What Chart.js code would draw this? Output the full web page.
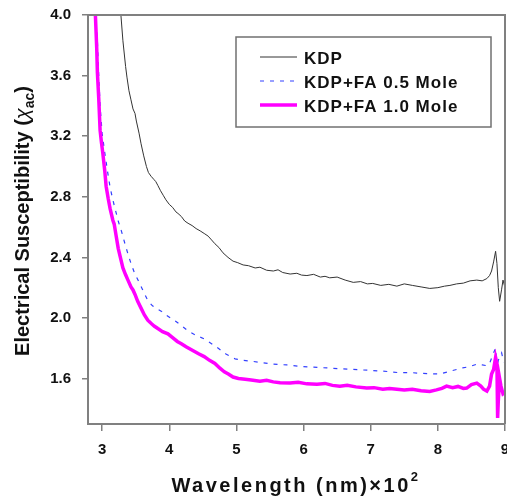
<!DOCTYPE html>
<html>
<head>
<meta charset="utf-8">
<script src="https://cdn.jsdelivr.net/npm/chart.js@4.4.1/dist/chart.umd.min.js"></script>
<style>
  html, body { margin: 0; padding: 0; background: #fff; }
  #myChart { display: block; }
</style>
</head>
<body>
<canvas id="myChart" width="507" height="500"></canvas>
<script>
// series labels
var seriesNames = ['KDP', 'KDP+FA 0.5 Mole', 'KDP+FA 1.0 Mole'];

// tick labels
var xTicks = [3, 4, 5, 6, 7, 8, 9];
var yTicks = [1.6, 2.0, 2.4, 2.8, 3.2, 3.6, 4.0];

// KDP
var kdpX = [3.26, 3.28, 3.31, 3.35, 3.37, 3.40, 3.43, 3.46, 3.49, 3.51, 3.55, 3.58, 3.62, 3.66, 3.69, 3.73,
    3.77, 3.80, 3.83, 3.87, 3.91, 3.95, 4.00, 4.05, 4.10, 4.13, 4.18, 4.23, 4.28, 4.34, 4.40, 4.46,
    4.53, 4.58, 4.63, 4.68, 4.74, 4.80, 4.875, 4.95, 5.02, 5.10, 5.18, 5.28, 5.35, 5.45, 5.55, 5.62,
    5.69, 5.80, 5.90, 5.97, 6.05, 6.15, 6.25, 6.32, 6.39, 6.50, 6.62, 6.74, 6.85, 6.95, 7.03, 7.15,
    7.27, 7.39, 7.50, 7.62, 7.75, 7.88, 8.00, 8.10, 8.18, 8.28, 8.38, 8.48, 8.58, 8.66, 8.73, 8.77,
    8.80, 8.83, 8.86, 8.88, 8.90, 8.92, 8.95, 8.97, 9.0];
var kdpY = [4.10, 4.00, 3.83, 3.66, 3.59, 3.50, 3.44, 3.38, 3.35, 3.30, 3.22, 3.15, 3.07, 3.00, 2.96, 2.935,
    2.915, 2.90, 2.875, 2.84, 2.81, 2.78, 2.75, 2.73, 2.70, 2.69, 2.67, 2.64, 2.625, 2.61, 2.59, 2.575,
    2.555, 2.54, 2.515, 2.49, 2.465, 2.43, 2.40, 2.375, 2.365, 2.35, 2.345, 2.33, 2.335, 2.315, 2.31, 2.318,
    2.30, 2.29, 2.295, 2.283, 2.28, 2.288, 2.27, 2.275, 2.265, 2.27, 2.25, 2.235, 2.24, 2.225, 2.228, 2.215,
    2.222, 2.21, 2.225, 2.215, 2.205, 2.195, 2.20, 2.21, 2.215, 2.225, 2.23, 2.245, 2.25, 2.245, 2.26, 2.28,
    2.31, 2.37, 2.44, 2.36, 2.20, 2.11, 2.19, 2.25, 2.20];

// KDP+FA 0.5 Mole
var fa05X = [2.88, 2.91, 2.93, 2.95, 2.97, 3.00, 3.04, 3.08, 3.12, 3.16, 3.20, 3.24, 3.29, 3.34, 3.38, 3.43,
    3.48, 3.54, 3.60, 3.68, 3.75, 3.82, 3.88, 3.95, 4.02, 4.09, 4.18, 4.28, 4.40, 4.53, 4.63, 4.73,
    4.85, 4.98, 5.10, 5.22, 5.38, 5.54, 5.75, 5.95, 6.15, 6.35, 6.55, 6.74, 6.95, 7.14, 7.30, 7.43,
    7.58, 7.73, 7.88, 8.03, 8.18, 8.28, 8.37, 8.48, 8.58, 8.66, 8.73, 8.77, 8.80, 8.83, 8.86, 8.88,
    8.90, 8.92, 8.95, 8.97, 9.0];
var fa05Y = [4.15, 3.95, 3.83, 3.60, 3.40, 3.22, 3.09, 2.97, 2.86, 2.78, 2.71, 2.64, 2.57, 2.49, 2.43, 2.36,
    2.30, 2.245, 2.19, 2.115, 2.08, 2.06, 2.045, 2.02, 2.00, 1.98, 1.95, 1.915, 1.885, 1.86, 1.83, 1.80,
    1.76, 1.73, 1.72, 1.715, 1.705, 1.695, 1.69, 1.68, 1.675, 1.67, 1.665, 1.66, 1.655, 1.65, 1.645, 1.638,
    1.64, 1.635, 1.632, 1.63, 1.648, 1.66, 1.67, 1.68, 1.695, 1.69, 1.685, 1.70, 1.735, 1.77, 1.80, 1.67,
    1.72, 1.74, 1.77, 1.73, 1.70];

// KDP+FA 1.0 Mole
var fa10X = [2.88, 2.90, 2.92, 2.93, 2.95, 2.97, 2.99, 3.01, 3.04, 3.06, 3.09, 3.12, 3.16, 3.18, 3.21, 3.24,
    3.28, 3.31, 3.35, 3.39, 3.43, 3.46, 3.49, 3.53, 3.58, 3.63, 3.68, 3.74, 3.78, 3.83, 3.90, 3.98,
    4.05, 4.12, 4.18, 4.25, 4.33, 4.43, 4.52, 4.60, 4.68, 4.75, 4.82, 4.88, 4.95, 5.03, 5.13, 5.22,
    5.35, 5.45, 5.55, 5.65, 5.80, 5.92, 6.05, 6.20, 6.32, 6.43, 6.54, 6.65, 6.78, 6.94, 7.05, 7.18,
    7.28, 7.39, 7.50, 7.62, 7.75, 7.88, 7.98, 8.06, 8.13, 8.22, 8.30, 8.38, 8.43, 8.50, 8.58, 8.64,
    8.68, 8.73, 8.77, 8.80, 8.83, 8.86, 8.88, 8.89, 8.90, 8.92, 8.94, 8.97, 9.0];
var fa10Y = [4.15, 4.00, 3.78, 3.62, 3.45, 3.24, 3.16, 3.09, 2.97, 2.87, 2.79, 2.72, 2.645, 2.62, 2.54, 2.46,
    2.385, 2.33, 2.285, 2.245, 2.205, 2.185, 2.155, 2.11, 2.065, 2.02, 1.985, 1.96, 1.945, 1.93, 1.91, 1.895,
    1.87, 1.845, 1.83, 1.81, 1.79, 1.765, 1.745, 1.72, 1.70, 1.67, 1.645, 1.63, 1.61, 1.60, 1.595, 1.59,
    1.583, 1.588, 1.578, 1.572, 1.57, 1.575, 1.565, 1.563, 1.568, 1.555, 1.55, 1.556, 1.545, 1.537, 1.54, 1.53,
    1.535, 1.53, 1.525, 1.53, 1.52, 1.515, 1.525, 1.535, 1.55, 1.54, 1.548, 1.535, 1.537, 1.56, 1.57, 1.55,
    1.53, 1.517, 1.55, 1.63, 1.66, 1.74, 1.70, 1.34, 1.45, 1.60, 1.55, 1.50, 1.51];

function toPoints(xs, ys) {
    return xs.map(function (x, i) { return { x: x, y: ys[i] }; });
}

var axisGray = '#808080';

// box round the plot, axis titles and the legend
var decorPlugin = {
    id: 'decor',
    afterDraw: function (chart) {
        var ctx = chart.ctx;
        var a = chart.chartArea;
        ctx.save();
        ctx.strokeStyle = axisGray;
        ctx.lineWidth = 2;
        ctx.beginPath();
        ctx.moveTo(a.left, a.top);
        ctx.lineTo(a.right, a.top);
        ctx.lineTo(a.right, a.bottom);
        ctx.stroke();

        // y title with subscript
        ctx.fillStyle = '#111';
        ctx.translate(29, 221);
        ctx.rotate(-Math.PI / 2);
        ctx.textBaseline = 'alphabetic';
        var big = 'bold 20px Arial';
        var small = 'bold 14px Arial';
        var parts = [
            { t: 'Electrical Susceptibility (', f: big, dy: 0 },
            { t: 'χ', f: 'italic 20px Arial', dy: 0 },
            { t: 'ac', f: small, dy: 5 },
            { t: ')', f: big, dy: 0 }
        ];
        var total = 0;
        parts.forEach(function (p) { ctx.font = p.f; p.w = ctx.measureText(p.t).width; total += p.w; });
        var x = -total / 2;
        parts.forEach(function (p) {
            ctx.font = p.f;
            ctx.textAlign = 'left';
            ctx.fillText(p.t, x, p.dy);
            x += p.w;
        });
        ctx.restore();

        // x title with superscript
        ctx.save();
        ctx.fillStyle = '#111';
        ctx.letterSpacing = '2.5px';
        ctx.font = 'bold 20px Arial';
        var main = 'Wavelength (nm)×10';
        var mw = ctx.measureText(main).width;
        ctx.font = 'bold 13px Arial';
        var sw = ctx.measureText('2').width;
        var sx = 296 - (mw + sw) / 2;
        ctx.font = 'bold 20px Arial';
        ctx.textAlign = 'left';
        ctx.fillText(main, sx, 492);
        ctx.font = 'bold 13px Arial';
        ctx.fillText('2', sx + mw, 481);
        ctx.restore();

        // legend
        ctx.save();
        ctx.strokeStyle = '#707070';
        ctx.lineWidth = 1.5;
        ctx.strokeRect(236, 37, 255, 90);
        var rows = [57, 81, 105];
        chart.data.datasets.forEach(function (ds, i) {
            ctx.strokeStyle = ds.borderColor;
            ctx.lineWidth = ds.borderWidth;
            ctx.setLineDash(ds.borderDash || []);
            ctx.beginPath();
            ctx.moveTo(260, rows[i]);
            ctx.lineTo(297, rows[i]);
            ctx.stroke();
            ctx.setLineDash([]);
            ctx.fillStyle = '#111';
            ctx.letterSpacing = '1px';
            ctx.font = 'bold 17px Arial';
            ctx.textBaseline = 'middle';
            ctx.fillText(ds.label, 304, rows[i] + 2);
        });
        ctx.restore();
    }
};

var chartArea = document.getElementById('myChart').getContext('2d');

var myChart = new Chart(chartArea, {
    type: 'line',
    data: {
        datasets: [{
            label: seriesNames[0],
            data: toPoints(kdpX, kdpY),
            borderColor: '#333333',
            borderWidth: 1,
            order: 2
        }, {
            label: seriesNames[1],
            data: toPoints(fa05X, fa05Y),
            borderColor: '#3340ff',
            borderWidth: 1.2,
            borderDash: [4, 6],
            order: 1
        }, {
            label: seriesNames[2],
            data: toPoints(fa10X, fa10Y),
            borderColor: '#ff00ff',
            borderWidth: 3.5,
            order: 0
        }]
    },
    options: {
        responsive: false,
        animation: false,
        events: [],
        elements: {
            point: { radius: 0 },
            line: { tension: 0, fill: false }
        },
        layout: { padding: { top: 15, right: 2, left: 0, bottom: 0 } },
        plugins: {
            legend: { display: false },
            tooltip: { enabled: false },
            title: { display: false }
        },
        scales: {
            x: {
                type: 'linear',
                min: 2.79,
                max: 9.0,
                afterBuildTicks: function (scale) {
                    scale.ticks = xTicks.map(function (v) { return { value: v }; });
                },
                afterFit: function (scale) {
                    scale.height = 76;
                    scale.paddingLeft = 0;
                    scale.paddingRight = 0;
                },
                grid: { drawOnChartArea: false, drawTicks: true, tickLength: 7, color: axisGray, lineWidth: 1.5 },
                border: { color: axisGray, width: 2 },
                ticks: {
                    color: '#111',
                    font: { family: 'Arial', weight: 'bold', size: 15 },
                    padding: 10,
                    maxRotation: 0,
                    callback: function (v) { return String(v); }
                }
            },
            y: {
                min: 1.3,
                max: 4.0,
                afterBuildTicks: function (scale) {
                    scale.ticks = yTicks.map(function (v) { return { value: v }; });
                },
                afterFit: function (scale) {
                    scale.width = 88;
                    scale.paddingTop = 0;
                    scale.paddingBottom = 0;
                },
                grid: { drawOnChartArea: false, drawTicks: true, tickLength: 6, color: axisGray, lineWidth: 1.5 },
                border: { color: axisGray, width: 2 },
                ticks: {
                    color: '#111',
                    font: { family: 'Arial', weight: 'bold', size: 15 },
                    padding: 11,
                    callback: function (v) { return Number(v).toFixed(1); }
                }
            }
        }
    },
    plugins: [decorPlugin]
});
</script>
</body>
</html>
